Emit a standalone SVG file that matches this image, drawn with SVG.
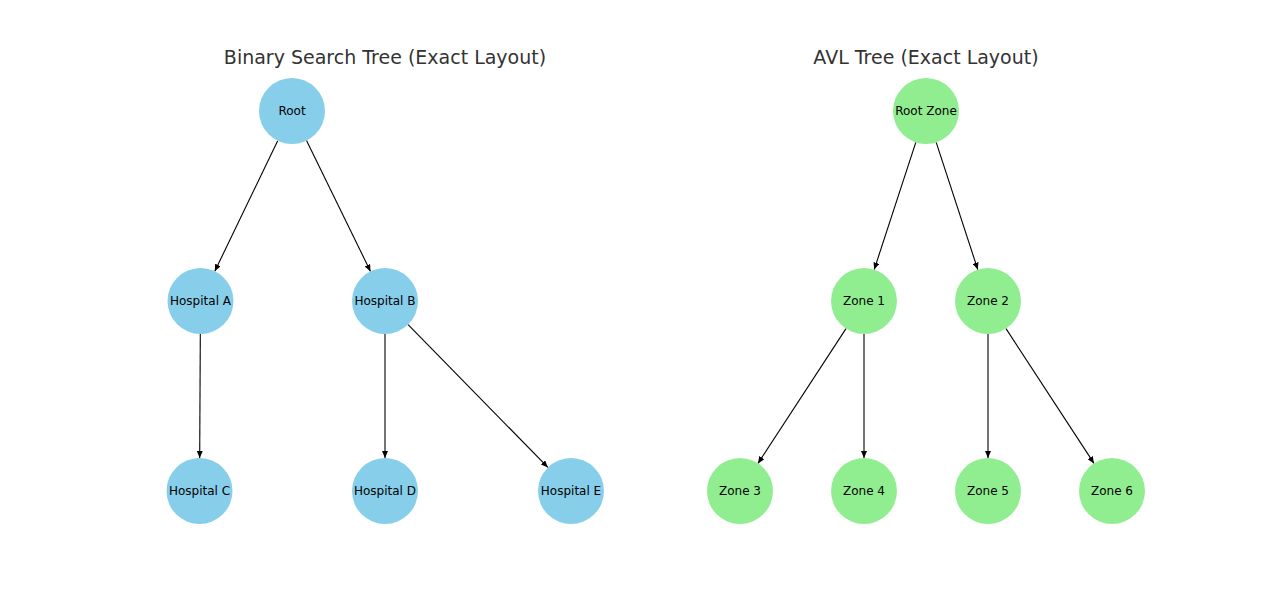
<svg xmlns="http://www.w3.org/2000/svg" width="1280" height="597" viewBox="0 0 1280 597">
  <style>
    .title { font-family: "DejaVu Sans", Verdana, sans-serif; font-size: 19px; fill: #333333; text-anchor: middle; }
    .label { font-family: "DejaVu Sans", Verdana, sans-serif; font-size: 12px; fill: #000000; text-anchor: middle; }
    .bst { fill: #87CEEB; }
    .avl { fill: #90EE90; }
    .edge { stroke: #000000; stroke-width: 1.1; fill: none; marker-end: url(#arrow); }
  </style>
  <defs>
    <marker id="arrow" markerUnits="userSpaceOnUse" markerWidth="7" markerHeight="6" refX="7" refY="3" orient="auto">
      <path d="M0,0 L7,3 L0,6 z" fill="#000000"/>
    </marker>
  </defs>
  <rect x="0" y="0" width="1280" height="597" fill="#ffffff"/>

  <text class="title" x="385" y="64">Binary Search Tree (Exact Layout)</text>
  <text class="title" x="926" y="64">AVL Tree (Exact Layout)</text>

  <g id="connectors">
    <line class="edge" x1="277.7" y1="140.7" x2="214.8" y2="271.3"/>
    <line class="edge" x1="306.5" y1="140.6" x2="370.5" y2="271.4"/>
    <line class="edge" x1="200.3" y1="334" x2="199.7" y2="458"/>
    <line class="edge" x1="385" y1="334" x2="385" y2="458"/>
    <line class="edge" x1="408.1" y1="324.6" x2="547.9" y2="467.4"/>
    <line class="edge" x1="915.8" y1="142.4" x2="874.2" y2="269.6"/>
    <line class="edge" x1="936.2" y1="142.4" x2="977.8" y2="269.6"/>
    <line class="edge" x1="846.0" y1="328.6" x2="758.0" y2="463.4"/>
    <line class="edge" x1="864" y1="334" x2="864" y2="458"/>
    <line class="edge" x1="988" y1="334" x2="988" y2="458"/>
    <line class="edge" x1="1006.0" y1="328.6" x2="1094.0" y2="463.4"/>
  </g>

  <g id="root">
    <circle class="bst" cx="292" cy="111" r="33"/>
    <text class="label" x="292" y="115">Root</text>
  </g>
  <g id="hospital-a">
    <circle class="bst" cx="200.5" cy="301" r="33"/>
    <text class="label" x="200.5" y="305">Hospital A</text>
  </g>
  <g id="hospital-b">
    <circle class="bst" cx="385" cy="301" r="33"/>
    <text class="label" x="385" y="305">Hospital B</text>
  </g>
  <g id="hospital-c">
    <circle class="bst" cx="199.5" cy="491" r="33"/>
    <text class="label" x="199.5" y="495">Hospital C</text>
  </g>
  <g id="hospital-d">
    <circle class="bst" cx="385" cy="491" r="33"/>
    <text class="label" x="385" y="495">Hospital D</text>
  </g>
  <g id="hospital-e">
    <circle class="bst" cx="571" cy="491" r="33"/>
    <text class="label" x="571" y="495">Hospital E</text>
  </g>

  <g id="root-zone">
    <circle class="avl" cx="926" cy="111" r="33"/>
    <text class="label" x="926" y="115">Root Zone</text>
  </g>
  <g id="zone-1">
    <circle class="avl" cx="864" cy="301" r="33"/>
    <text class="label" x="864" y="305">Zone 1</text>
  </g>
  <g id="zone-2">
    <circle class="avl" cx="988" cy="301" r="33"/>
    <text class="label" x="988" y="305">Zone 2</text>
  </g>
  <g id="zone-3">
    <circle class="avl" cx="740" cy="491" r="33"/>
    <text class="label" x="740" y="495">Zone 3</text>
  </g>
  <g id="zone-4">
    <circle class="avl" cx="864" cy="491" r="33"/>
    <text class="label" x="864" y="495">Zone 4</text>
  </g>
  <g id="zone-5">
    <circle class="avl" cx="988" cy="491" r="33"/>
    <text class="label" x="988" y="495">Zone 5</text>
  </g>
  <g id="zone-6">
    <circle class="avl" cx="1112" cy="491" r="33"/>
    <text class="label" x="1112" y="495">Zone 6</text>
  </g>
</svg>
